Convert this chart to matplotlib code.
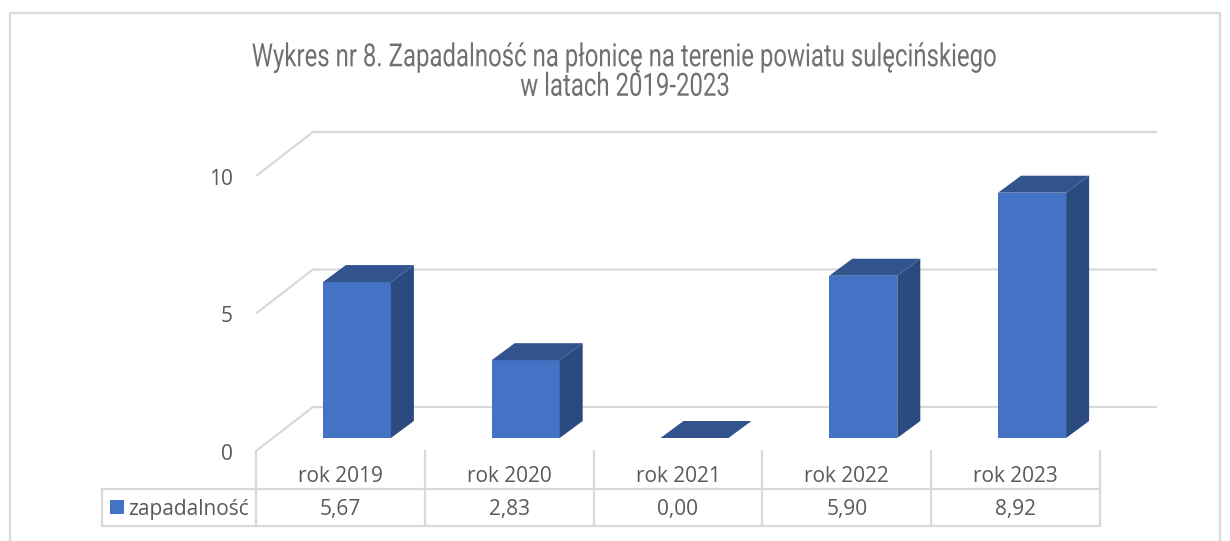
import matplotlib
matplotlib.use("Agg")
import matplotlib.pyplot as plt
from matplotlib.patches import Polygon, Rectangle
from matplotlib.patheffects import AbstractPathEffect
from matplotlib.transforms import Affine2D

years = ["rok 2019", "rok 2020", "rok 2021", "rok 2022", "rok 2023"]
values = [5.67, 2.83, 0.00, 5.90, 8.92]
value_labels = ["5,67", "2,83", "0,00", "5,90", "8,92"]
series_name = "zapadalność"
yticks = [0, 5, 10]
title = "Wykres nr 8. Zapadalność na płonicę na terenie powiatu sulęcińskiego\nw latach 2019-2023"

W, H = 1230, 541
fig = plt.figure(figsize=(W / 100, H / 100), dpi=100, facecolor="white")
plt.rcParams["font.family"] = ["Open Sans", "DejaVu Sans"]


class Narrow(AbstractPathEffect):
    """Condense real text horizontally around a pixel centre."""
    def __init__(self, cx, sx):
        super().__init__()
        self.cx, self.sx = cx, sx

    def draw_path(self, renderer, gc, tpath, affine, rgbFace=None):
        t = affine + Affine2D().translate(-self.cx, 0).scale(self.sx, 1).translate(self.cx, 0)
        renderer.draw_path(gc, tpath, t, rgbFace)


# axes = front plane of the 3D chart
L, R, B, T = 256, 1100, 451, 176
ax = fig.add_axes([L / W, 1 - B / H, (R - L) / W, (B - T) / H])
ax.set_xlim(-0.5, 4.5)
ax.set_ylim(0, 10)
ax.axis("off")

px = (R - L) / 5       # pixels per category
py = (B - T) / 10      # pixels per unit
grid = "#d9d9d9"
txt = "#595959"
fs = 15
wall_dx, wall_dy = 57 / px, 44 / py
last = 4.5 + wall_dx

for t in yticks:
    ax.plot([-0.5, -0.5 + wall_dx, last], [t, t + wall_dy, t + wall_dy],
            color=grid, lw=1.6, clip_on=False, zorder=1, solid_capstyle="butt")
    ax.annotate(str(t), (-0.5, t), xytext=(-23, -3.5), textcoords="offset pixels",
                ha="right", va="center", fontsize=fs, color=txt, annotation_clip=False)

# bars
bw = 68 / px
shift = 16.5 / px
base = 13 / py
dx, dy = 23 / px, 17 / py
front, side, top = "#4472c4", "#2a4a80", "#31548f"
xs = [i + shift for i in range(len(values))]
ax.bar(xs, values, width=bw, bottom=base, color=front, zorder=3, clip_on=False)
for x, v in zip(xs, values):
    l, r, y0, y1 = x - bw / 2, x + bw / 2, base, base + v
    if v > 0:
        ax.add_patch(Polygon([(r, y0), (r + dx, y0 + dy), (r + dx, y1 + dy), (r, y1)],
                             fc=side, ec="none", zorder=3, clip_on=False))
    ax.add_patch(Polygon([(l, y1), (l + dx, y1 + dy), (r + dx, y1 + dy), (r, y1)],
                         fc=top, ec="none", zorder=3, clip_on=False))

# data table, in front-plane coordinates
row_h = 37.5 / py
leg_w = 154 / px
y1, y2 = -row_h, -2 * row_h
tk = dict(color=grid, lw=1.6, clip_on=False, zorder=1, solid_capstyle="projecting")
ax.plot([-0.5 - leg_w, 4.5], [y1, y1], **tk)
ax.plot([-0.5 - leg_w, 4.5], [y2, y2], **tk)
ax.plot([-0.5 - leg_w] * 2, [y1, y2], **tk)
for i in range(6):
    ax.plot([i - 0.5, i - 0.5], [0, y2], **tk)
for i, (yr, lab) in enumerate(zip(years, value_labels)):
    ax.text(i, -25.5 / py, yr, ha="center", va="center", fontsize=fs, color=txt, clip_on=False)
    ax.text(i, -58 / py, lab, ha="center", va="center", fontsize=fs, color=txt, clip_on=False)
ax.add_patch(Rectangle((-0.5 - leg_w + 8 / px, (y1 + y2) / 2 - 7 / py), 14 / px, 14 / py,
                       fc=front, ec="none", clip_on=False))
ax.text(-0.5 - 7 / px, -58 / py, series_name, ha="right", va="center",
        fontsize=fs, color=txt, clip_on=False)

# outer chart frame (open at the bottom, cropped)
fx0, fx1, fy0 = 9.5 / W, 1219.5 / W, 1 - 12.5 / H
fig.add_artist(plt.Line2D([fx0, fx0, fx1, fx1], [0, fy0, fy0, 0], color=grid, lw=1.6,
                          transform=fig.transFigure))

tt = fig.text(625.5 / W, 1 - 72.5 / H, title, ha="center", va="center", fontsize=23,
              color="#707070", family=["Roboto", "DejaVu Sans"], weight="normal", linespacing=1.02)
tt.set_path_effects([Narrow(625.5, 0.75)])

fig.savefig("out.png", dpi=100)
